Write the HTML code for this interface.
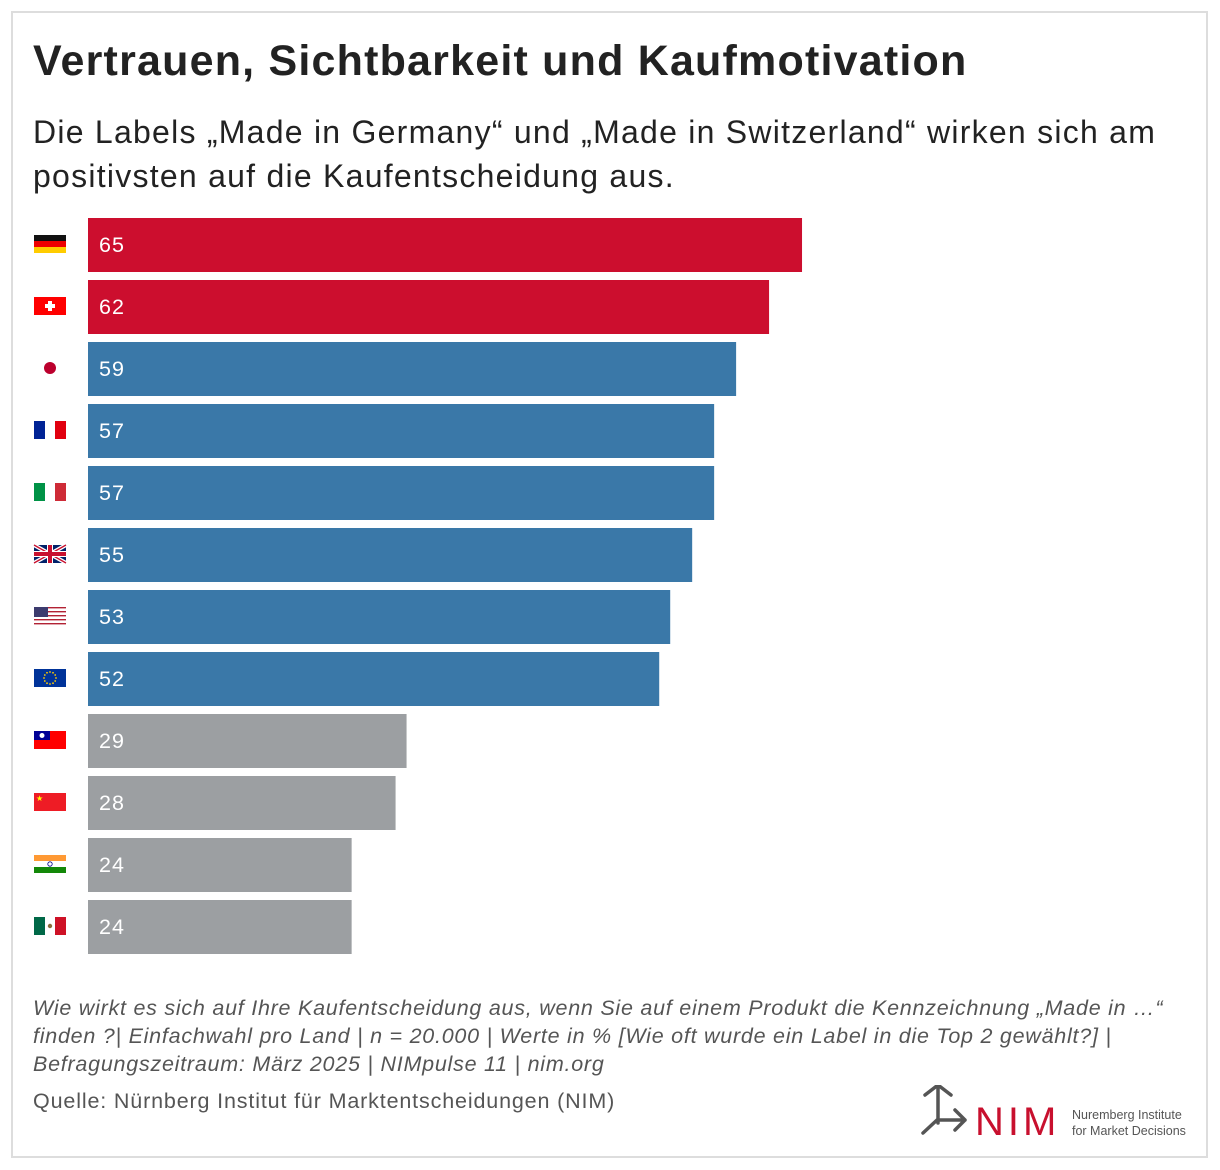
<!DOCTYPE html>
<html><head><meta charset="utf-8"><style>
body{margin:0;width:1220px;height:1170px;background:#fff;font-family:"Liberation Sans","DejaVu Sans",sans-serif;position:relative;overflow:hidden}
#frame{position:absolute;left:11px;top:11px;width:1197px;height:1147px;border:2px solid #ddd;box-sizing:border-box}
h1{position:absolute;left:33px;top:37px;margin:0;font-size:43px;font-weight:bold;color:#222;letter-spacing:1.2px;white-space:nowrap}
#sub{position:absolute;left:33px;top:110px;margin:0;font-size:32px;color:#222;line-height:44px;letter-spacing:1.25px;white-space:nowrap}
#note{position:absolute;left:33px;top:994px;font-size:21.5px;font-style:italic;color:#555;line-height:28px;letter-spacing:0.75px;white-space:nowrap}
#src{position:absolute;left:33px;top:1089px;font-size:21.5px;color:#555;letter-spacing:0.85px;white-space:nowrap}
</style></head><body>
<div id="frame"></div>
<h1>Vertrauen, Sichtbarkeit und Kaufmotivation</h1>
<p id="sub">Die Labels „Made in Germany“ und „Made in Switzerland“ wirken sich am<br>positivsten auf die Kaufentscheidung aus.</p>
<svg id="chart" width="1220" height="1170" style="position:absolute;left:0;top:0"></svg>
<div id="note">Wie wirkt es sich auf Ihre Kaufentscheidung aus, wenn Sie auf einem Produkt die Kennzeichnung „Made in …“<br>finden ?| Einfachwahl pro Land | n = 20.000 | Werte in % [Wie oft wurde ein Label in die Top 2 gewählt?] |<br>Befragungszeitraum: März 2025 | NIMpulse 11 | nim.org</div>
<div id="src">Quelle: Nürnberg Institut für Marktentscheidungen (NIM)</div>
<svg width="300" height="60" style="position:absolute;left:915px;top:1085px">
<g stroke="#555" stroke-width="3.5" fill="none" stroke-linecap="round" stroke-linejoin="round">
<path d="M10 10 L23 0 L36 10 M23 1 L23 38 M8 48 L22 35 L50 35 M40 25 L50 35 L40 45"/></g>
<text x="60" y="50" font-size="40" fill="#c8102e" font-family="Liberation Sans,sans-serif" letter-spacing="4">NIM</text>
<text x="157" y="34" font-size="12.5" fill="#555">Nuremberg Institute</text>
<text x="157" y="50" font-size="12.5" fill="#555">for Market Decisions</text>
</svg>
<script>
const countries=["de","ch","jp","fr","it","uk","us","eu","tw","cn","in","mx"];
const values=[65,62,59,57,57,55,53,52,29,28,24,24];
const groups=["top","top","mid","mid","mid","mid","mid","mid","low","low","low","low"];
const colors={top:"#cc0e2e",mid:"#3a78a8",low:"#9c9fa2"};
const svg=document.getElementById('chart');const NS="http://www.w3.org/2000/svg";
const x0=88,scale=10.985,top0=218,pitch=62,bh=54;
function x(v){return x0+v*scale}
function y(i){return top0+i*pitch}
function mk(t,a,p){const e=document.createElementNS(NS,t);for(const k in a)e.setAttribute(k,a[k]);(p||svg).appendChild(e);return e}
function flag(c,g){const X=34,Y=0,W=32,H=18;
 const s=(x,y,w,h,f)=>mk('rect',{x:X+x,y:Y+y,width:w,height:h,fill:f},g);
 if(c=="de"){s(0,0,W,6,"#111");s(0,6,W,6,"#e00");s(0,12,W,6,"#fc0")}
 else if(c=="ch"){s(0,0,W,H,"#f00");s(14,4,4,10,"#fff");s(11,7,10,4,"#fff")}
 else if(c=="jp"){mk('circle',{cx:X+16,cy:9,r:6,fill:"#bc002d"},g)}
 else if(c=="fr"){s(0,0,11,H,"#002395");s(11,0,10,H,"#fff");s(21,0,11,H,"#e1000f")}
 else if(c=="it"){s(0,0,11,H,"#009246");s(11,0,10,H,"#fff");s(21,0,11,H,"#ce2b37")}
 else if(c=="uk"){s(0,0,W,H,"#012169");mk('path',{d:`M${X} 0 L${X+W} ${H} M${X+W} 0 L${X} ${H}`,stroke:"#fff","stroke-width":4},g);mk('path',{d:`M${X} 0 L${X+W} ${H} M${X+W} 0 L${X} ${H}`,stroke:"#c8102e","stroke-width":1.3},g);s(13,0,6,H,"#fff");s(0,6,W,6,"#fff");s(14,0,4,H,"#c8102e");s(0,7,W,4,"#c8102e")}
 else if(c=="us"){for(let k=0;k<9;k++)s(0,k*2,W,1.4,k%2?"#fff":"#b22234");s(0,0,14,10,"#3c3b6e")}
 else if(c=="eu"){s(0,0,W,H,"#039");for(let k=0;k<12;k++){const a=k*Math.PI/6;mk('circle',{cx:X+16+6*Math.cos(a),cy:9+6*Math.sin(a),r:0.9,fill:"#fc0"},g)}}
 else if(c=="tw"){s(0,0,W,H,"#f00");s(0,0,16,9,"#000095");mk('circle',{cx:X+8,cy:4.5,r:2.5,fill:"#fff"},g)}
 else if(c=="cn"){s(0,0,W,H,"#ee1c25");mk('text',{x:X+2,y:8,"font-size":8,fill:"#ff0"},g).textContent="★"}
 else if(c=="in"){s(0,0,W,6,"#f93");s(0,6,W,6,"#fff");s(0,12,W,6,"#138808");mk('circle',{cx:X+16,cy:9,r:2.2,fill:"none",stroke:"#008","stroke-width":0.8},g)}
 else if(c=="mx"){s(0,0,11,H,"#006847");s(11,0,10,H,"#fff");s(21,0,11,H,"#ce1126");mk('circle',{cx:X+16,cy:9,r:2.2,fill:"#8a6d3b"},g)}
}
values.forEach((v,i)=>{
 const r=mk('rect',{x:x0,y:y(i),width:x(v)-x0,height:bh,fill:colors[groups[i]]});
 
 
 const t=mk('text',{x:x0+11,y:y(i)+bh/2+7,"font-size":21.5,fill:"#fff","letter-spacing":1});t.textContent=v;
 
 
 const g=mk('g',{transform:`translate(0,${y(i)+bh/2-10})`});
 
 
 flag(countries[i],g);
});
</script>
</body></html>
